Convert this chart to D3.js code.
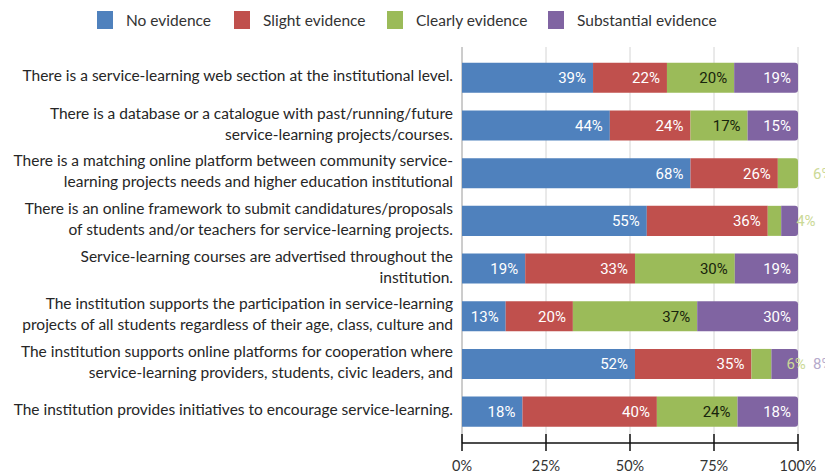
<!DOCTYPE html>
<html><head><meta charset="utf-8">
<script src="https://cdn.jsdelivr.net/npm/d3@7"></script>
<style>body{margin:0;background:#fff}svg{display:block}</style>
</head><body><svg id="c" width="825" height="473"></svg>
<script>
const categories = [
  ["There is a service-learning web section at the institutional level."],
  ["There is a database or a catalogue with past/running/future","service-learning projects/courses."],
  ["There is a matching online platform between community service-","learning projects needs and higher education institutional"],
  ["There is an online framework to submit candidatures/proposals","of students and/or teachers for service-learning projects."],
  ["Service-learning courses are advertised throughout the","institution."],
  ["The institution supports the participation in service-learning","projects of all students regardless of their age, class, culture and"],
  ["The institution supports online platforms for cooperation where","service-learning providers, students, civic leaders, and"],
  ["The institution provides initiatives to encourage service-learning."]
];
const seriesNames = ["No evidence","Slight evidence","Clearly evidence","Substantial evidence"];
const noEvidence = [39,44,68,55,19,13,52,18];
const slightEvidence = [22,24,26,36,33,20,35,40];
const clearlyEvidence = [20,17,6,4,30,37,6,24];
const substantialEvidence = [19,15,0,5,19,30,8,18];
const tickValues = [0,0.25,0.5,0.75,1];
const tickLabels = ["0%","25%","50%","75%","100%"];
const hiddenLabels = [[3,3]]; // [row, series] labels not shown in source

const colors = ["#4F81BD","#C0504D","#9BBB59","#8064A2"];
const insideText = ["#ffffff","#ffffff","#18240c","#ffffff"];
const outsideText = ["#9fb8dc","#e0a9a7","#cbd996","#b5aacb"];

const allSeries = [noEvidence,slightEvidence,clearlyEvidence,substantialEvidence];
const rows = categories.map((c,i)=>({i, k0:noEvidence[i], k1:slightEvidence[i], k2:clearlyEvidence[i], k3:substantialEvidence[i]}));
const keys = ["k0","k1","k2","k3"];
const stack = d3.stack().keys(keys).offset(d3.stackOffsetExpand)(rows);

const svg = d3.select("#c");
const x = d3.scaleLinear().domain([0,1]).range([462,798]);
const y = d3.scaleBand().domain(d3.range(categories.length)).range([53.2,436.2]).paddingInner(0.37).paddingOuter(0.2);

// grid
svg.append("g").selectAll("line").data(tickValues).join("line")
  .attr("x1",d=>x(d)).attr("x2",d=>x(d)).attr("y1",47).attr("y2",443)
  .attr("stroke",d=>d===0?"#9a9a9a":"#d4d4d4").attr("stroke-width",1);

// bars
function segPath(x0,x1,y0,h,r){
  const w = x1-x0; r = Math.min(r,w);
  if(r<=0) return `M${x0},${y0}h${w}v${h}h${-w}Z`;
  return `M${x0},${y0}H${x1-r}Q${x1},${y0} ${x1},${y0+r}V${y0+h-r}Q${x1},${y0+h} ${x1-r},${y0+h}H${x0}Z`;
}
stack.forEach((s,si)=>{
  const g = svg.append("g");
  s.forEach((d,ri)=>{
    const v = d[1]-d[0];
    if(v<=0) return;
    const isLast = d[1]>0.9999;
    g.append("path").attr("d",segPath(x(d[0]),x(d[1]),y(ri),y.bandwidth(),isLast?3:0)).attr("fill",colors[si]);
  });
});

// value labels
stack.forEach((s,si)=>{
  s.forEach((d,ri)=>{
    const raw = allSeries[si][ri];
    if(raw<=0) return;
    if(hiddenLabels.some(h=>h[0]===ri&&h[1]===si)) return;
    const cy = y(ri)+y.bandwidth()/2;
    const small = raw<10;
    svg.append("text")
      .attr("x", small ? x(d[1])+15 : x(d[1])-7)
      .attr("y", cy).attr("dy","0.36em")
      .attr("text-anchor", small?"start":"end")
      .attr("font-family","Roboto, 'Open Sans', sans-serif").attr("font-size",15)
      .attr("fill", small?outsideText[si]:insideText[si])
      .text(raw+"%");
  });
});

// category labels
categories.forEach((lines,i)=>{
  const cy = y(i)+y.bandwidth()/2;
  const lh = 21;
  const t = svg.append("text").attr("text-anchor","end")
    .attr("font-family","Lato, 'Open Sans', sans-serif").attr("font-size",15.5).attr("fill","#262626");
  lines.forEach((ln,j)=>{
    t.append("tspan").attr("x",453).attr("y",cy - (lines.length-1)*lh/2 + j*lh - 2).attr("dy","0.36em").text(ln);
  });
});

// x axis
const axis = svg.append("g").attr("transform","translate(0,443)");
axis.append("line").attr("x1",x(0)).attr("x2",x(1)).attr("stroke","#111").attr("stroke-width",1.5);
axis.selectAll(".tk").data(tickValues).join("line")
  .attr("x1",d=>x(d)).attr("x2",d=>x(d)).attr("y1",-9).attr("y2",8).attr("stroke","#111").attr("stroke-width",1.5);
axis.selectAll(".tl").data(tickValues).join("text")
  .attr("x",d=>x(d)).attr("y",28).attr("text-anchor","middle")
  .attr("font-family","Lato, 'Open Sans', sans-serif").attr("font-size",14.5).attr("fill","#333")
  .text((d,i)=>tickLabels[i]);

// legend
const leg = svg.append("g");
const legX = [97,234,387,548];
seriesNames.forEach((n,i)=>{
  leg.append("rect").attr("x",legX[i]).attr("y",11).attr("width",16).attr("height",18).attr("fill",colors[i]);
  leg.append("text").attr("x",legX[i]+29).attr("y",20).attr("dy","0.36em")
    .attr("font-family","Lato, 'Open Sans', sans-serif").attr("font-size",15.5).attr("fill","#333").text(n);
});
</script></body></html>
